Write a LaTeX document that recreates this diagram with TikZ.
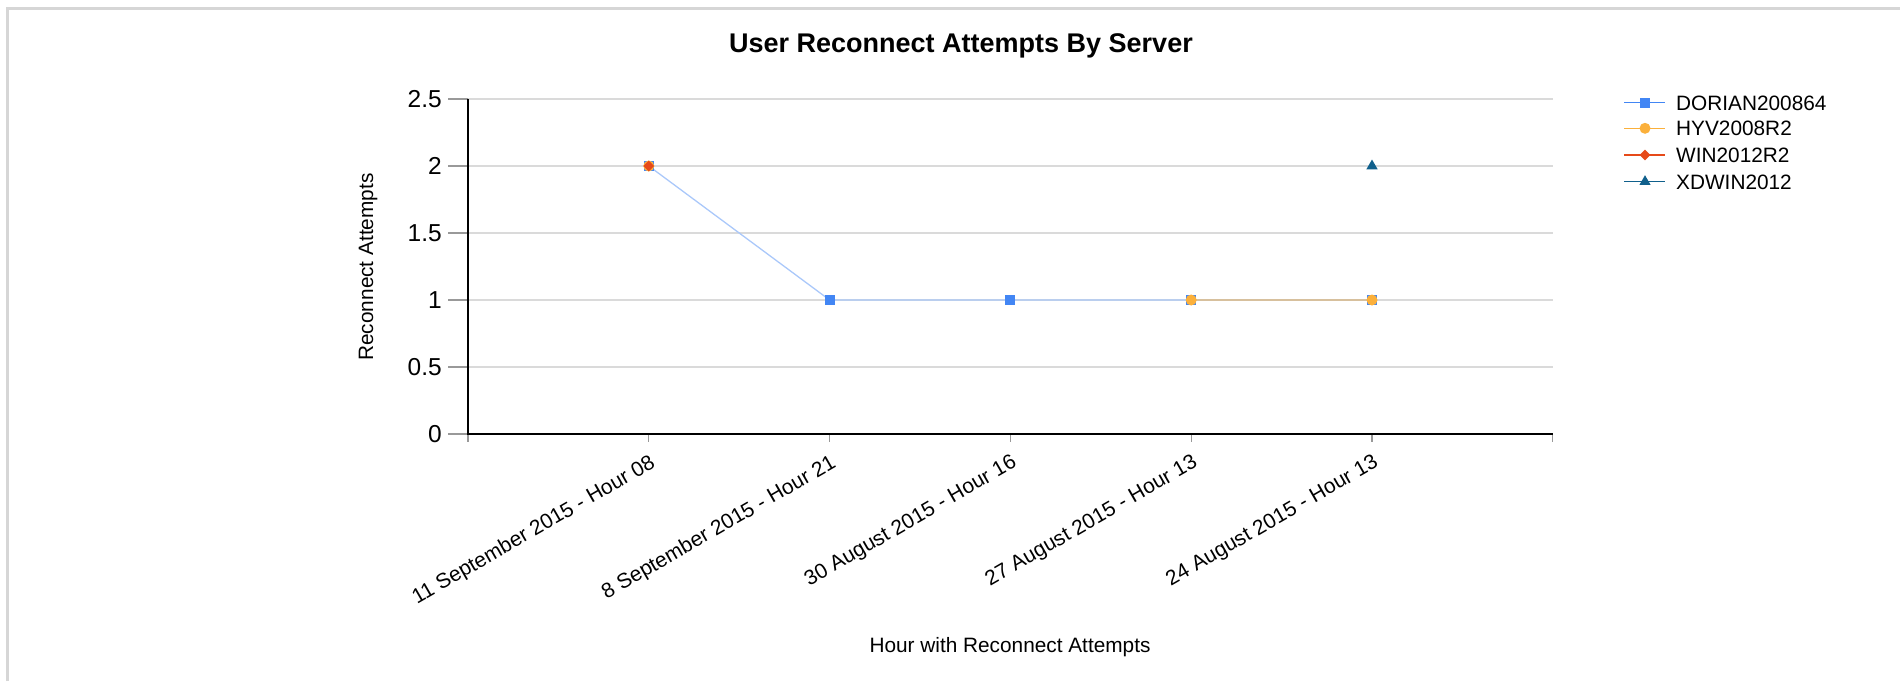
\documentclass[tikz,border=0pt]{standalone}
\usepackage{fontspec}
\setmainfont{Liberation Sans}
\usetikzlibrary{shapes.geometric}
\definecolor{dorian}{RGB}{66,134,244}
\definecolor{hyv}{RGB}{251,176,59}
\definecolor{win}{RGB}{230,74,25}
\definecolor{xdwin}{RGB}{16,96,140}
\definecolor{gridgray}{RGB}{218,218,218}
\definecolor{framegray}{RGB}{214,214,214}

\begin{document}
\begin{tikzpicture}[x=1pt,y=-1pt,
    mk/.style={inner sep=0pt, draw=none},
    sqmark/.style={mk, rectangle, fill=dorian, minimum size=10pt},
    dotmark/.style={mk, circle, fill=hyv, minimum size=11pt},
    diamark/.style={mk, diamond, fill=win, minimum width=11pt, minimum height=11pt},
    trimark/.style={mk, regular polygon, regular polygon sides=3, fill=xdwin, minimum size=13pt},
    ticklbl/.style={font=\fontsize{24.5}{28}\selectfont, anchor=east, inner sep=0pt},
    catlbl/.style={font=\fontsize{21}{24}\selectfont, anchor=north east, rotate=30, inner sep=0pt},
    lbl/.style={font=\fontsize{20.8}{24}\selectfont, inner sep=0pt}]
    \useasboundingbox (0,0) rectangle (1900,681);
    \draw[framegray, line width=3pt] (7,681) -- (7,8) -- (1900,8);
    \node[font=\fontsize{27}{32}\selectfont\bfseries, anchor=base, inner sep=0pt] (title) at (961,52) {User Reconnect Attempts By Server};

    % plot area, one unit per category and per attempt
    \begin{scope}[shift={(468,434)}, x=180.8pt, y=134pt]
        \foreach \v in {0.5,1,...,2.5}{
            \draw[gridgray, line width=2pt] (0,\v) -- (6,\v);
        }
        \foreach \v/\t in {0/0,0.5/0.5,1/1,1.5/1.5,2/2,2.5/2.5}{
            \draw[gray!80, line width=1.2pt] ([xshift=-20pt]0,\v) -- (0,\v);
            \node[ticklbl] (ylbl\t) at ([xshift=-26pt]0,\v) {\t};
        }
        \foreach \k in {0,...,6}{
            \draw[gray!80, line width=1.2pt] (\k,0) -- ([yshift=-8pt]\k,0);
        }
        \draw[line width=2.5pt] (0,2.5) -- (0,0) -- (6,0);
        \foreach \k/\t in {1/11 September 2015 - Hour 08,2/8 September 2015 - Hour 21,3/30 August 2015 - Hour 16,4/27 August 2015 - Hour 13,5/24 August 2015 - Hour 13}{
            \node[catlbl] (cat\k) at ([xshift=0pt,yshift=-19pt]\k,0) {\t};
        }

        \coordinate (d1) at (1,2);
        \coordinate (d2) at (2,1);
        \coordinate (d3) at (3,1);
        \coordinate (d4) at (4,1);
        \coordinate (d5) at (5,1);
        \coordinate (x5) at (5,2);
        \draw[dorian!45, line width=1.3pt] (d1) -- (d2) -- (d3) -- (d4) -- (d5);
        \draw[hyv, draw opacity=.45, line width=1.3pt] (d4) -- (d5);

        \foreach \k in {1,...,5}{
            \node[sqmark] (dor\k) at (d\k) {};
        }
        \node[dotmark] (hyv1) at (d1) {};
        \node[dotmark] (hyv4) at (d4) {};
        \node[dotmark] (hyv5) at (d5) {};
        \node[diamark] (win1) at (d1) {};
        \node[trimark] (xdw5) at (x5) {};
    \end{scope}

    \node[lbl, rotate=90, anchor=base] (ytitle) at (373,267) {Reconnect Attempts};
    \node[lbl, anchor=base] (xtitle) at (1010,652) {Hour with Reconnect Attempts};

    % legend
    \coordinate (lg1) at (1645,102.7);
    \coordinate (lg2) at (1645,128.3);
    \coordinate (lg3) at (1645,155);
    \coordinate (lg4) at (1645,181.7);
    \draw[dorian, line width=1.5pt] ([xshift=-21pt]lg1) -- ([xshift=20pt]lg1);
    \draw[hyv, line width=1.5pt] ([xshift=-21pt]lg2) -- ([xshift=20pt]lg2);
    \draw[win, line width=1.5pt] ([xshift=-21pt]lg3) -- ([xshift=20pt]lg3);
    \draw[xdwin, line width=1.5pt] ([xshift=-21pt]lg4) -- ([xshift=20pt]lg4);
    \node[sqmark] (lgm1) at (lg1) {};
    \node[dotmark] (lgm2) at (lg2) {};
    \node[diamark] (lgm3) at (lg3) {};
    \node[trimark] (lgm4) at (lg4) {};
    \node[lbl, anchor=base west] (lgt1) at (1676,110) {DORIAN200864};
    \node[lbl, anchor=base west] (lgt2) at (1676,135.6) {HYV2008R2};
    \node[lbl, anchor=base west] (lgt3) at (1676,162.3) {WIN2012R2};
    \node[lbl, anchor=base west] (lgt4) at (1676,189) {XDWIN2012};
\end{tikzpicture}
\end{document}
